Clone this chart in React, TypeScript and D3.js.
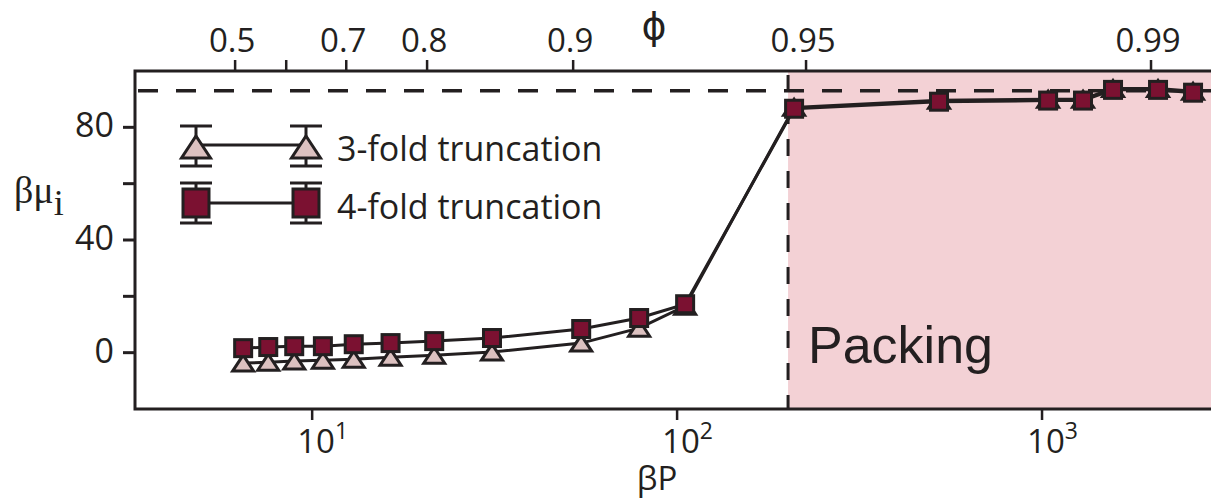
import React from 'react';
import * as d3 from 'd3';

// ---- data ----
const betaP = [6.47, 7.58, 8.93, 10.7, 13.0, 16.4, 21.6, 31.1, 54.6, 78.7, 105.2, 209.2, 522, 1039, 1295, 1565, 2079, 2593];
const mu4fold = [1.6, 2.0, 2.3, 2.3, 3.0, 3.4, 4.1, 5.2, 8.4, 12.3, 17.2, 86.6, 89.1, 89.5, 89.5, 93.3, 93.3, 92.3];
const mu3fold = [-3.7, -3.4, -3.0, -2.7, -2.3, -1.6, -0.9, 0.2, 3.4, 8.7, 16.5, 87.1, 89.6, 90.0, 90.0, 93.8, 93.8, 92.8];
const xTickValues = [10, 100, 1000];
const xTickExponents = ['1', '2', '3'];
const yTickValues = [0, 20, 40, 60, 80];
const yTickLabels = ['0', '', '40', '', '80'];
const phiTickLabels = ['0.5', '', '0.7', '0.8', '0.9', '0.95', '0.99'];
const phiTickBetaP = [6.15, 8.49, 12.4, 20.65, 51.9, 225.6, 1989];
const packingStartBetaP = 201.4;
const idealMu = 93;
const legendLabels = ['3-fold truncation', '4-fold truncation'];

const INK = '#231f20';
const MAROON = '#7b1131';
const TRI_FILL = '#dcc1c0';
const PINK = '#f3d1d5';

export default function App() {
  const W = 1211, H = 502;
  const left = 135, right = 1211, top = 71, bottom = 409;
  const x = d3.scaleLog().domain([3.27, 2904]).range([left, right]);
  const y = d3.scaleLinear().domain([-20, 100]).range([bottom, top]);

  const line = d3.line<number>().x((_, i) => x(betaP[i])).y((d) => y(d));

  const triPath = (cx: number, cy: number, w: number, h: number) =>
    `M${cx},${cy - h / 2}L${cx + w / 2},${cy + h / 2}L${cx - w / 2},${cy + h / 2}Z`;

  const sansFont = "'Open Sans', sans-serif";
  const xp = x(packingStartBetaP);

  // legend geometry
  const lgX1 = 196, lgX2 = 306, row1 = 145, row2 = 203;

  return (
    <svg width={W} height={H} style={{ position: 'absolute', left: 0, top: 0 }} xmlns="http://www.w3.org/2000/svg">
      <rect x={0} y={0} width={W} height={H} fill="#fff" />
      {/* packing region */}
      <rect x={xp} y={top} width={right - xp} height={bottom - top} fill={PINK} />
      {/* dashed reference lines */}
      <line x1={left + 3} x2={right} y1={y(idealMu)} y2={y(idealMu)} stroke={INK} strokeWidth={3.5} strokeDasharray="20,18" />
      <line x1={xp} x2={xp} y1={top + 4} y2={bottom} stroke={INK} strokeWidth={3} strokeDasharray="17,15" />

      {/* frame */}
      <path d={`M${right + 2},${top}H${left}V${bottom}H${right + 2}`} fill="none" stroke={INK} strokeWidth={3} />

      {/* left axis ticks */}
      {yTickValues.map((v, i) => (
        <g key={'y' + i}>
          <line x1={left - 12} x2={left} y1={y(v)} y2={y(v)} stroke={INK} strokeWidth={3} />
          {yTickLabels[i] && (
            <text x={114} y={y(v) + 10} textAnchor="end" fontFamily={sansFont} fontSize={34} fill={INK}>{yTickLabels[i]}</text>
          )}
        </g>
      ))}
      {/* bottom axis */}
      {xTickValues.map((v, i) => (
        <g key={'x' + i}>
          <line x1={x(v)} x2={x(v)} y1={bottom} y2={bottom + 11} stroke={INK} strokeWidth={2.5} />
          <text x={x(v) - 15} y={453} fontFamily={sansFont} fontSize={33} fill={INK}>
            10<tspan fontSize={23} dy={-14}>{xTickExponents[i]}</tspan>
          </text>
        </g>
      ))}
      <text x={657} y={490} textAnchor="middle" fontFamily={sansFont} fontSize={33} fill={INK}>βP</text>

      {/* top axis (packing fraction) */}
      {phiTickBetaP.map((v, i) => (
        <g key={'p' + i}>
          <line x1={x(v)} x2={x(v)} y1={top - 11} y2={top} stroke={INK} strokeWidth={2.5} />
          {phiTickLabels[i] && (
            <text x={x(v) - 3} y={52} textAnchor="middle" fontFamily={sansFont} fontSize={33} fill={INK}>{phiTickLabels[i]}</text>
          )}
        </g>
      ))}
      <text x={654} y={39} textAnchor="middle" fontFamily="'DejaVu Sans', sans-serif" fontSize={38} fill={INK}>ϕ</text>

      {/* y label */}
      <text x={14} y={203} fontFamily="'Liberation Serif', serif" fontSize={38} fill={INK}>
        βμ<tspan fontSize={36} dy={12}>i</tspan>
      </text>

      {/* Packing label */}
      <text x={808} y={363} fontFamily="'Liberation Sans', Arial, sans-serif" fontSize={52} fill={INK}>Packing</text>

      {/* 3-fold series */}
      <path d={line(mu3fold) || ''} fill="none" stroke={INK} strokeWidth={3} />
      {mu3fold.map((v, i) => (
        <path key={'t' + i} d={triPath(x(betaP[i]), y(v), 21, 16)} fill={TRI_FILL} stroke={INK} strokeWidth={3} strokeLinejoin="miter" />
      ))}
      {/* 4-fold series */}
      <path d={line(mu4fold) || ''} fill="none" stroke={INK} strokeWidth={3} />
      {mu4fold.map((v, i) => (
        <rect key={'s' + i} x={x(betaP[i]) - 8.5} y={y(v) - 8.5} width={17} height={17} fill={MAROON} stroke={INK} strokeWidth={3} />
      ))}

      {/* legend */}
      <g>
        {/* row 1 */}
        <line x1={lgX1} x2={lgX2} y1={row1} y2={row1} stroke={INK} strokeWidth={3} />
        {[lgX1, lgX2].map((cx, k) => (
          <g key={'l1' + k}>
            <line x1={cx} x2={cx} y1={126} y2={166} stroke={INK} strokeWidth={3} />
            <line x1={cx - 16} x2={cx + 16} y1={126} y2={126} stroke={INK} strokeWidth={3} />
            <line x1={cx - 16} x2={cx + 16} y1={166} y2={166} stroke={INK} strokeWidth={3} />
            <path d={triPath(cx, 147, 29, 22)} fill={TRI_FILL} stroke={INK} strokeWidth={3} />
          </g>
        ))}
        <text x={337} y={161} fontFamily={sansFont} fontSize={34} fill={INK}>{legendLabels[0]}</text>
        {/* row 2 */}
        <line x1={lgX1} x2={lgX2} y1={row2} y2={row2} stroke={INK} strokeWidth={3} />
        {[lgX1, lgX2].map((cx, k) => (
          <g key={'l2' + k}>
            <line x1={cx} x2={cx} y1={183} y2={223} stroke={INK} strokeWidth={3} />
            <line x1={cx - 16} x2={cx + 16} y1={183} y2={183} stroke={INK} strokeWidth={3} />
            <line x1={cx - 16} x2={cx + 16} y1={223} y2={223} stroke={INK} strokeWidth={3} />
            <rect x={cx - 13} y={row2 - 14} width={26} height={28} fill={MAROON} stroke={INK} strokeWidth={3} />
          </g>
        ))}
        <text x={337} y={219} fontFamily={sansFont} fontSize={34} fill={INK}>{legendLabels[1]}</text>
      </g>
    </svg>
  );
}
